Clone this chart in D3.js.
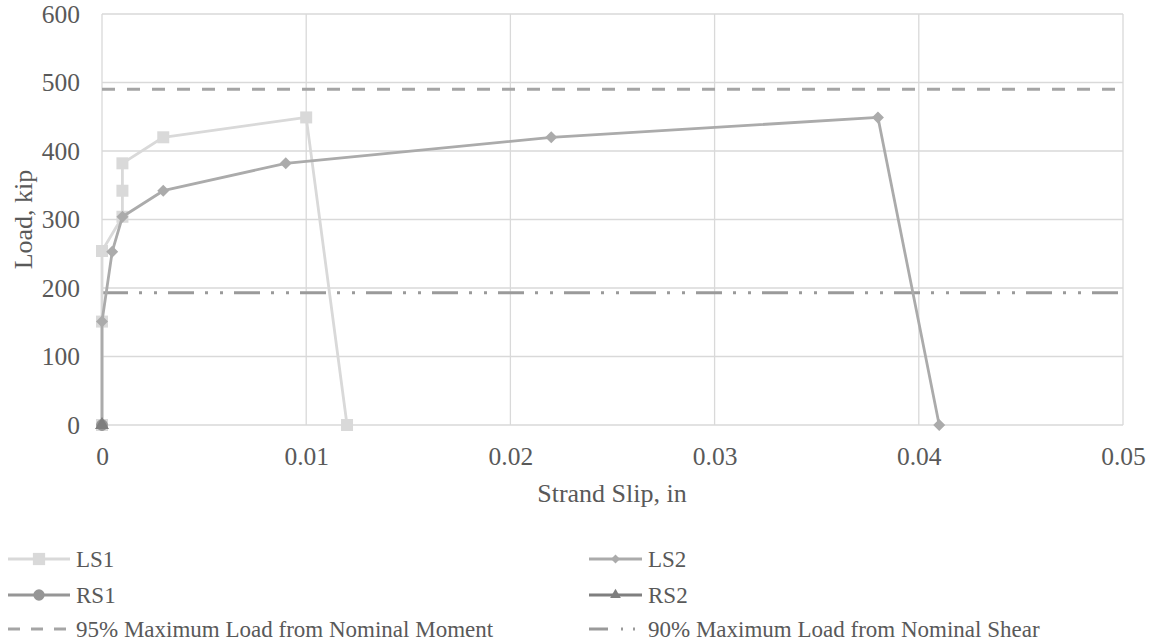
<!DOCTYPE html>
<html>
<head>
<meta charset="utf-8">
<script src="https://cdn.jsdelivr.net/npm/d3@7"></script>
<style>
html,body{margin:0;padding:0;background:#fff;}
svg{display:block;}
</style>
</head>
<body>
<svg id="chart" width="1154" height="644"></svg>
<script>
// ---- data ----
const xTicks = [0, 0.01, 0.02, 0.03, 0.04, 0.05];
const xTickLabels = ["0", "0.01", "0.02", "0.03", "0.04", "0.05"];
const yTicks = [0, 100, 200, 300, 400, 500, 600];
const yTickLabels = ["0", "100", "200", "300", "400", "500", "600"];

const ls1X = [0, 0, 0, 0.001, 0.001, 0.001, 0.003, 0.010, 0.012];
const ls1Y = [0, 151, 254, 304, 342, 382, 420, 449, 0];
const ls2X = [0, 0, 0.0005, 0.001, 0.003, 0.009, 0.022, 0.038, 0.041];
const ls2Y = [0, 151, 253, 304, 342, 382, 420, 449, 0];
const rs1X = [0, 0];
const rs1Y = [0, 0];
const rs2X = [0, 0];
const rs2Y = [0, 0];

const momentLoad = 490;  // 95% Maximum Load from Nominal Moment
const shearLoad = 193;   // 90% Maximum Load from Nominal Shear

const seriesNames = ["LS1", "LS2", "RS1", "RS2"];
const refNames = ["95% Maximum Load from Nominal Moment", "90% Maximum Load from Nominal Shear"];

// ---- setup ----
const FONT = "'Liberation Serif', 'Times New Roman', serif";
const TXT = "#595959";
const svg = d3.select("#chart");
const x = d3.scaleLinear().domain([0, 0.05]).range([102, 1123]);
const y = d3.scaleLinear().domain([0, 600]).range([425, 14]);

const gridColor = "#d9d9d9";
const colors = {LS1: "#d9d9d9", LS2: "#ababab", RS1: "#969696", RS2: "#7f7f7f"};
const refColors = ["#a5a5a5", "#9a9a9a"];
const dashMoment = "13,12";
const dashShear = "26,11,3,12,3,11";

function styleText(sel, size) {
  sel.style("font-family", FONT).style("font-size", size + "px").style("fill", TXT);
  return sel;
}

// gridlines
const g = svg.append("g");
g.selectAll("line.hg").data(yTicks).enter().append("line")
  .attr("x1", x(0)).attr("x2", x(0.05))
  .attr("y1", d => y(d)).attr("y2", d => y(d))
  .attr("stroke", gridColor).attr("stroke-width", 1.3);
g.selectAll("line.vg").data(xTicks).enter().append("line")
  .attr("y1", y(0)).attr("y2", y(600))
  .attr("x1", d => x(d)).attr("x2", d => x(d))
  .attr("stroke", gridColor).attr("stroke-width", 1.3);

// axes (tick labels via d3 axes)
const yAxis = d3.axisLeft(y).tickValues(yTicks).tickFormat((d, i) => yTickLabels[i]).tickSize(0).tickPadding(22);
const yg = svg.append("g").attr("transform", `translate(${x(0)},0)`).call(yAxis);
yg.select(".domain").remove();
styleText(yg.selectAll("text"), 25.5);

const xAxis = d3.axisBottom(x).tickValues(xTicks).tickFormat((d, i) => xTickLabels[i]).tickSize(0).tickPadding(21.5);
const xg = svg.append("g").attr("transform", `translate(0,${y(0)})`).call(xAxis);
xg.select(".domain").remove();
styleText(xg.selectAll("text"), 25.5);

// axis titles
styleText(svg.append("text").attr("x", 612).attr("y", 502)
  .attr("text-anchor", "middle").text("Strand Slip, in"), 26);
styleText(svg.append("text").attr("transform", `translate(32,${(y(0) + y(600)) / 2}) rotate(-90)`)
  .attr("text-anchor", "middle").text("Load, kip"), 26);

// reference lines
svg.append("line").attr("x1", x(0)).attr("x2", x(0.05)).attr("y1", y(momentLoad)).attr("y2", y(momentLoad))
  .attr("stroke", refColors[0]).attr("stroke-width", 3).attr("stroke-dasharray", dashMoment);
svg.append("line").attr("x1", x(0)).attr("x2", x(0.05)).attr("y1", y(shearLoad)).attr("y2", y(shearLoad))
  .attr("stroke", refColors[1]).attr("stroke-width", 3).attr("stroke-dasharray", dashShear);

// series
const line = d3.line().x(d => x(d[0])).y(d => y(d[1]));
const series = [
  {name: "LS1", xs: ls1X, ys: ls1Y, sym: d3.symbolSquare, size: 144, rot: 0},
  {name: "LS2", xs: ls2X, ys: ls2Y, sym: d3.symbolSquare, size: 72, rot: 45},
  {name: "RS1", xs: rs1X, ys: rs1Y, sym: d3.symbolCircle, size: 100, rot: 0},
  {name: "RS2", xs: rs2X, ys: rs2Y, sym: d3.symbolTriangle, size: 80, rot: 0}
];
series.forEach(s => {
  const pts = s.xs.map((v, i) => [v, s.ys[i]]);
  svg.append("path").datum(pts).attr("d", line)
    .attr("fill", "none").attr("stroke", colors[s.name]).attr("stroke-width", 2.8)
    .attr("stroke-linejoin", "round");
  svg.selectAll(null).data(pts).enter().append("path")
    .attr("d", d3.symbol().type(s.sym).size(s.size))
    .attr("transform", d => `translate(${x(d[0])},${y(d[1])}) rotate(${s.rot})`)
    .attr("fill", colors[s.name]);
});

// legend
const legendRows = [
  {name: seriesNames[0], col: 0, row: 0, type: "series", sym: d3.symbolSquare, size: 150, rot: 0},
  {name: seriesNames[1], col: 1, row: 0, type: "series", sym: d3.symbolSquare, size: 40, rot: 45},
  {name: seriesNames[2], col: 0, row: 1, type: "series", sym: d3.symbolCircle, size: 100, rot: 0},
  {name: seriesNames[3], col: 1, row: 1, type: "series", sym: d3.symbolTriangle, size: 50, rot: 0},
  {name: refNames[0], col: 0, row: 2, type: "ref", color: refColors[0], dash: "12,11"},
  {name: refNames[1], col: 1, row: 2, type: "ref", color: refColors[1], dash: "19,13,2,10,2,20"}
];
const colX = [8, 589];
const colW = [62, 53];
const rowY = [559, 595, 629];
const lg = svg.append("g");
legendRows.forEach(r => {
  const x0 = colX[r.col], yy = rowY[r.row], w = colW[r.col];
  const color = r.type === "series" ? colors[r.name] : r.color;
  const ln = lg.append("line").attr("x1", x0).attr("x2", x0 + w).attr("y1", yy).attr("y2", yy)
    .attr("stroke", color).attr("stroke-width", 3);
  if (r.type === "ref") ln.attr("stroke-dasharray", r.dash);
  else lg.append("path").attr("d", d3.symbol().type(r.sym).size(r.size)())
    .attr("transform", `translate(${x0 + w / 2},${yy}) rotate(${r.rot})`).attr("fill", color);
  styleText(lg.append("text").attr("x", x0 + w + 6).attr("y", yy + 8).text(r.name), 23);
});
</script>
</body>
</html>
